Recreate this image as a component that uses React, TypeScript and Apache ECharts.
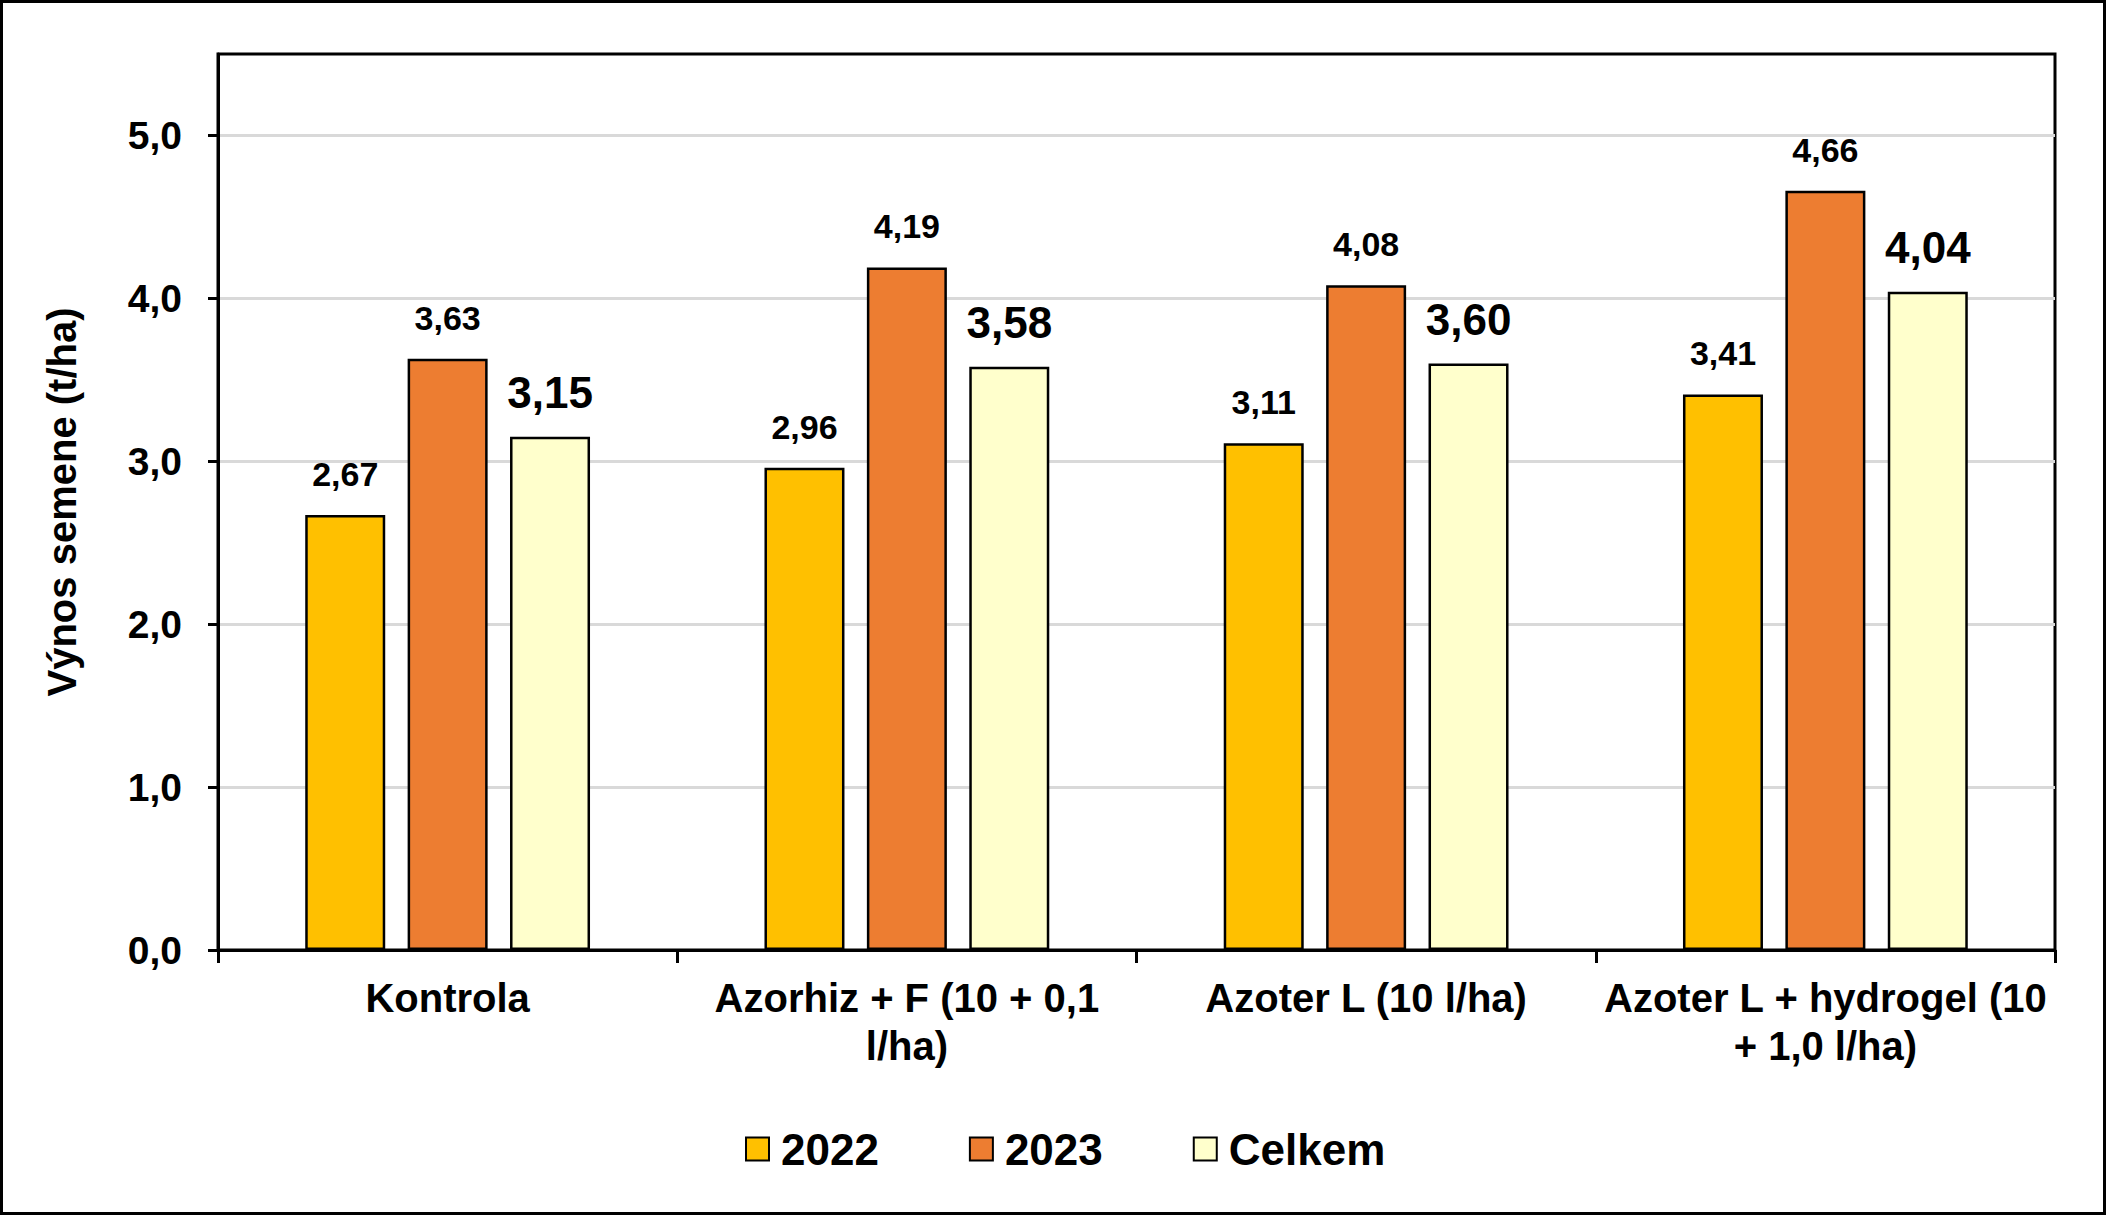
import React, { useEffect, useRef } from "react";
import * as echarts from "echarts";

const categories = [
  "Kontrola",
  "Azorhiz + F (10 + 0,1\nl/ha)",
  "Azoter L (10 l/ha)",
  "Azoter L + hydrogel (10\n+ 1,0 l/ha)",
];
const seriesNames = ["2022", "2023", "Celkem"];
const values2022 = [2.67, 2.96, 3.11, 3.41];
const values2023 = [3.63, 4.19, 4.08, 4.66];
const valuesCelkem = [3.15, 3.58, 3.6, 4.04];
const yTicks = [0, 1, 2, 3, 4, 5];
const yAxisTitle = "Výnos semene (t/ha)";

const FONT = "'Liberation Sans', Arial, sans-serif";
const colors = ["#FFC000", "#ED7D31", "#FFFFCC"];

export default function App() {
  const ref = useRef<HTMLDivElement>(null);
  useEffect(() => {
    if (!ref.current) return;
    const chart = echarts.init(ref.current, undefined, { renderer: "svg" });
    const mkSeries = (name: string, data: number[], color: string, big: boolean) => ({
      name,
      type: "bar",
      data,
      barWidth: 80,
      barGap: "28%",
      itemStyle: { color, borderColor: "#000", borderWidth: 2.5 },
      label: {
        show: true,
        position: "top",
        distance: big ? 22 : 24,
        fontFamily: FONT,
        fontWeight: "bold",
        fontSize: big ? 44 : 34,
        color: "#000",
        formatter: (p: any) => Number(p.value).toFixed(2).replace(".", ","),
      },
    });
    chart.setOption({
      animation: false,
      backgroundColor: "#fff",
      textStyle: { fontFamily: FONT },
      graphic: [
        {
          type: "rect",
          shape: { x: 1.5, y: 1.5, width: 2103, height: 1212 },
          style: { fill: "none", stroke: "#000", lineWidth: 3 },
          z: 100,
        },
      ],
      grid: {
        left: 218,
        right: 51,
        top: 54,
        bottom: 265,
        show: true,
        borderColor: "#000",
        borderWidth: 3,
        containLabel: false,
      },
      legend: {
        data: seriesNames,
        left: 740,
        top: 1122,
        itemWidth: 23,
        itemHeight: 23,
        itemGap: 90,
        icon: "rect",
        textStyle: {
          fontFamily: FONT,
          fontWeight: "bold",
          fontSize: 44,
          color: "#000",
          padding: [0, 0, 0, 7],
        },
      },
      xAxis: {
        type: "category",
        data: categories,
        axisLine: { show: true, lineStyle: { color: "#000", width: 3 } },
        axisTick: { show: true, length: 13, lineStyle: { color: "#000", width: 3 } },
        axisLabel: {
          fontFamily: FONT,
          fontWeight: "bold",
          fontSize: 40,
          lineHeight: 48,
          color: "#000",
          margin: 24,
          interval: 0,
        },
      },
      yAxis: {
        type: "value",
        min: 0,
        max: 5.5,
        interval: 1,
        name: yAxisTitle,
        nameLocation: "middle",
        nameGap: 136,
        nameTextStyle: {
          fontFamily: FONT,
          fontWeight: "bold",
          fontSize: 40,
          color: "#000",
        },
        axisLine: { show: true, lineStyle: { color: "#000", width: 3 } },
        axisTick: {
          show: true,
          length: 10,
          customValues: yTicks,
          lineStyle: { color: "#000", width: 3 },
        },
        axisLabel: {
          customValues: yTicks,
          fontFamily: FONT,
          fontWeight: "bold",
          fontSize: 39,
          color: "#000",
          margin: 36,
          formatter: (v: number) => v.toFixed(1).replace(".", ","),
        },
        splitLine: { show: true, lineStyle: { color: "#d9d9d9", width: 3 } },
      },
      series: [
        mkSeries(seriesNames[0], values2022, colors[0], false),
        mkSeries(seriesNames[1], values2023, colors[1], false),
        mkSeries(seriesNames[2], valuesCelkem, colors[2], true),
      ],
    });
    return () => chart.dispose();
  }, []);
  return (
    <div
      ref={ref}
      style={{ position: "fixed", left: 0, top: 0, width: 2106, height: 1215 }}
    />
  );
}
